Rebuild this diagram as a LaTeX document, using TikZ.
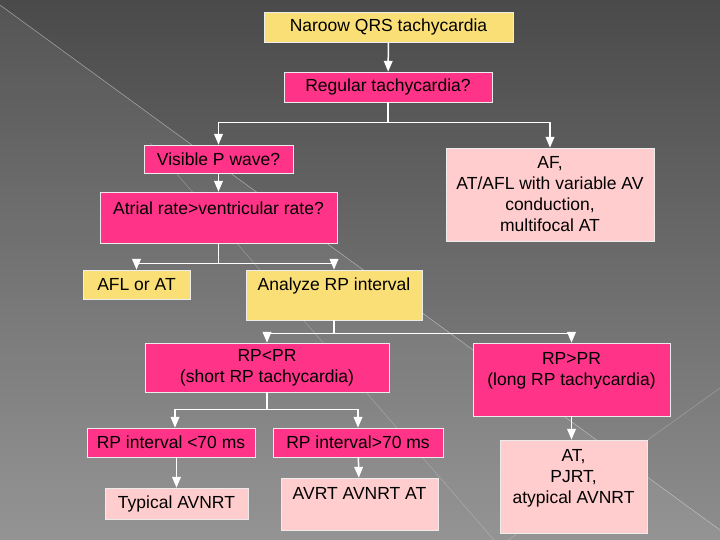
\documentclass[tikz,border=0pt]{standalone}
\usepackage{fontspec}
\setmainfont{Liberation Sans}
\usepackage{tikz}
\usetikzlibrary{positioning,arrows,calc}
\definecolor{slidetop}{RGB}{74,74,74}
\definecolor{slidebot}{RGB}{142,142,142}
\definecolor{boxyellow}{RGB}{250,223,118}
\definecolor{boxpink}{RGB}{255,52,136}
\definecolor{boxpale}{RGB}{255,205,205}
\tikzset{
  box/.style={draw=white!85!gray, line width=0.8pt, rectangle, align=center,
    inner sep=0pt, font=\fontsize{17.5}{21}\selectfont, text=black},
  yellowbox/.style={box, fill=boxyellow},
  pinkbox/.style={box, fill=boxpink},
  palebox/.style={box, fill=boxpale},
  flow/.style={draw=white, line width=1.5pt, postaction={draw=none},
    -{triangle 45[scale=0.7]}},
  rule/.style={draw=white!75!gray, line width=0.5pt, opacity=0.35}
}

\begin{document}
\begin{tikzpicture}[x=1pt,y=-1pt]
  \useasboundingbox (0,0) rectangle (720,540);
  % slide background
  \fill[top color=slidetop, bottom color=slidebot] (0,0) rectangle (720,540);
  \fill[white, opacity=0.06] (0,5) -- (720,530) -- (720,540) -- (0,540) -- cycle;
  \draw[rule, opacity=0.6] (0,5) -- (720,530);
  \draw[rule] (150,143) -- (494,540);
  \draw[rule] (500,546) -- (720,388);

  \node[yellowbox, minimum width=249pt, minimum height=30pt] (nqrs) at (388.5,27) {Naroow QRS tachycardia};
  \node[pinkbox, minimum width=208pt, minimum height=30pt] (reg) at (388,87) {Regular tachycardia?};
  \node[pinkbox, minimum width=149pt, minimum height=28pt] (vis) at (218.5,159) {Visible P wave?};
  \node[palebox, minimum width=208pt, minimum height=93pt] (af) at (550,194.5)
    {AF,\\AT/AFL with variable AV\\conduction,\\multifocal AT};
  \node[pinkbox, minimum width=237pt, minimum height=51pt] (atr) at (218.5,217.5)
    {Atrial rate>ventricular rate?\\[-2pt]\mbox{}};
  \node[yellowbox, minimum width=107pt, minimum height=29pt] (afl) at (136.5,284.5) {AFL or AT};
  \node[yellowbox, minimum width=176pt, minimum height=50pt] (ana) at (334,295)
    {Analyze RP interval\\\mbox{}};
  \node[pinkbox, minimum width=244pt, minimum height=49pt] (sht) at (267,367.5)
    {RP<PR\\(short RP tachycardia)};
  \node[pinkbox, minimum width=197pt, minimum height=73pt] (lng) at (571.5,379.5)
    {RP>PR\\(long RP tachycardia)\\\mbox{}};
  \node[pinkbox, minimum width=168pt, minimum height=29pt] (lt70) at (171,442.5) {RP interval <70 ms};
  \node[pinkbox, minimum width=170pt, minimum height=29pt] (gt70) at (358,442.5) {RP interval>70 ms};
  \node[palebox, minimum width=143pt, minimum height=31pt] (typ) at (176.5,503.5) {Typical AVNRT};
  \node[palebox, minimum width=157pt, minimum height=52pt] (avrt) at (359.5,504)
    {AVRT AVNRT AT\\\mbox{}};
  \node[palebox, minimum width=147pt, minimum height=93pt] (atp) at (573.5,486.5)
    {AT,\\PJRT,\\atypical AVNRT\\\mbox{}};

  \draw[flow] (nqrs) -- (reg);
  \draw[flow] (reg.south) -- ++(0,20) -| (vis.north);
  \draw[flow] (reg.south) -- ++(0,20) -| (af.north);
  \draw[flow] (vis) -- (atr);
  \draw[flow] (atr.south) -- ++(0,20) -| (afl.north);
  \draw[flow] (atr.south) -- ++(0,20) -| (ana.north);
  \draw[flow] (ana.south) -- ++(0,13) -| (sht.north);
  \draw[flow] (ana.south) -- ++(0,13) -| (lng.north);
  \draw[flow] (sht.south) -- ++(0,17) -| ([xshift=4pt]lt70.north);
  \draw[flow] (sht.south) -- ++(0,17) -| (gt70.north);
  \draw[flow] (lt70.south -| typ.north) -- (typ.north);
  \draw[flow] (gt70) -- (avrt);
  \draw[flow] (lng.south) -- (lng.south |- atp.north);
\end{tikzpicture}
\end{document}
